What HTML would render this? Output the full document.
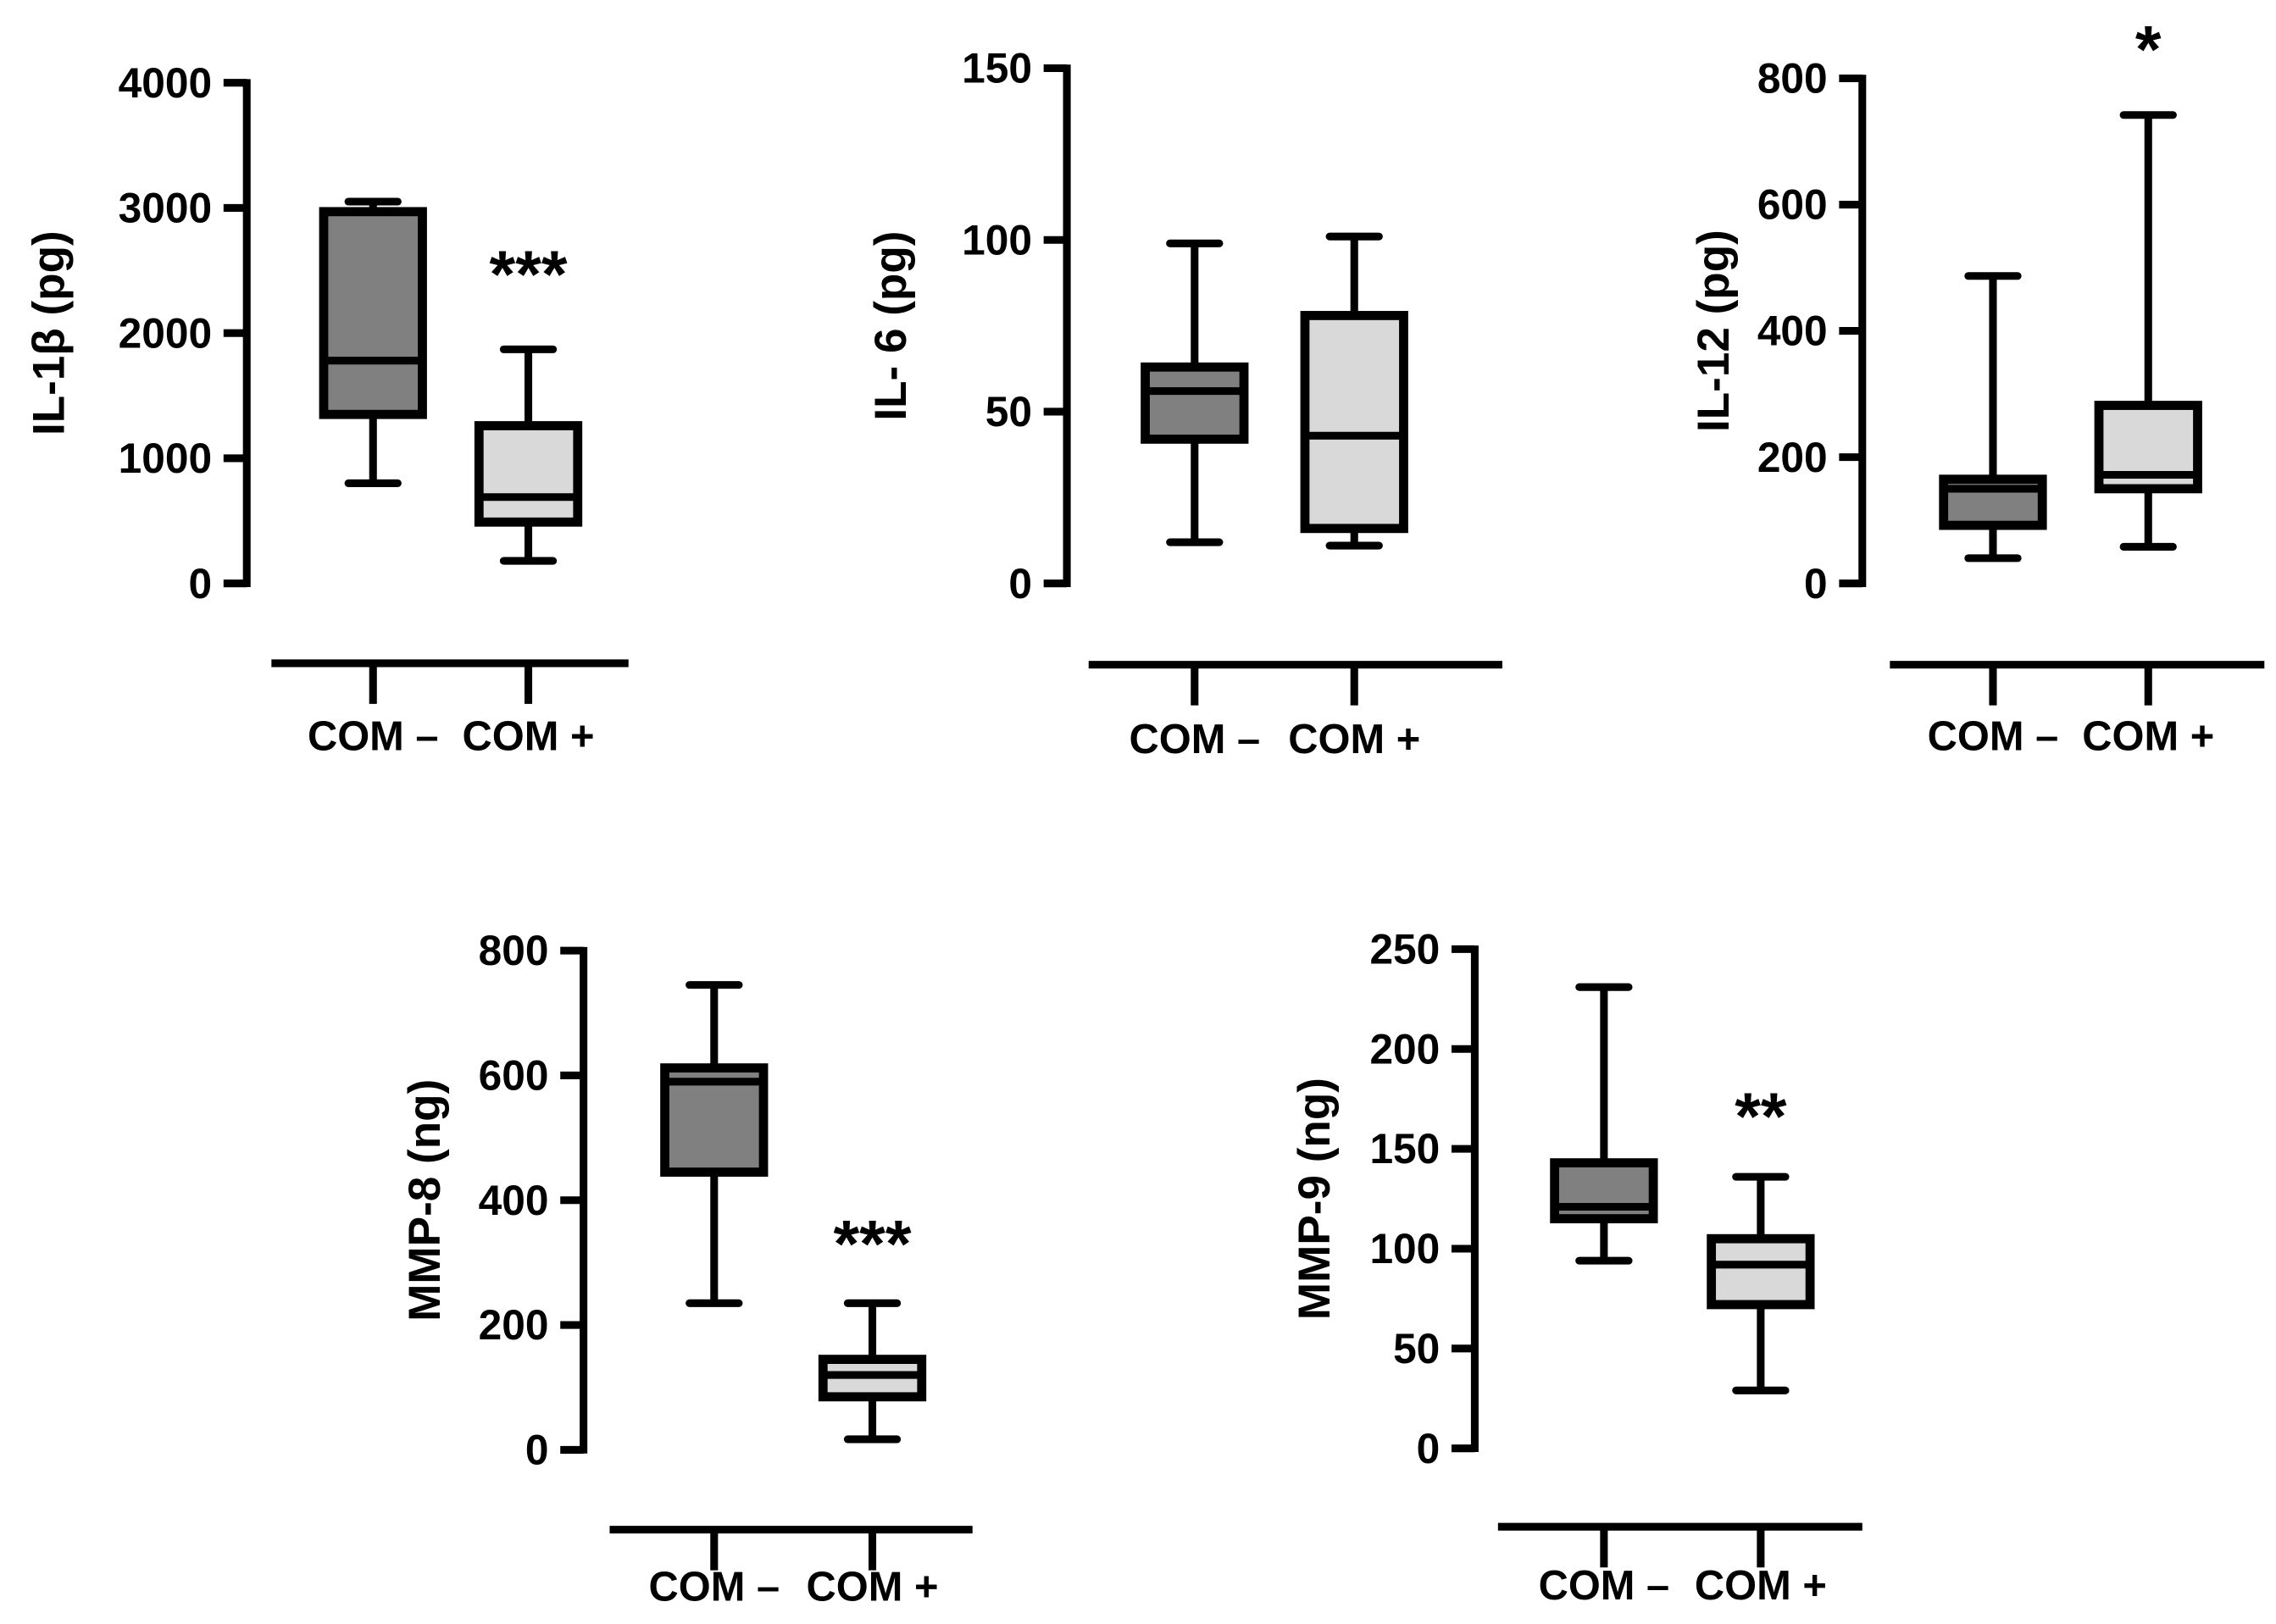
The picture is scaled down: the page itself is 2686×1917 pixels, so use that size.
<!DOCTYPE html>
<html><head><meta charset="utf-8"><style>
html,body{margin:0;padding:0;background:#fff;}
svg{display:block;}
text{font-family:"Liberation Sans",Arial,sans-serif;font-weight:bold;fill:#000;}
</style></head><body>
<svg id="fig" width="2686" height="1917" viewBox="0 0 1568 1119" preserveAspectRatio="none" xmlns="http://www.w3.org/2000/svg"></svg>
<script>
const groups = ["COM \u2013", "COM +"];
const il1bStats = [[800,1350,1780,2970,3050],[180,490,690,1260,1870]];
const il6Stats = [[12,42,56,63,99],[11,16,43,78,101]];
const il12Stats = [[40,92,150,165,487],[58,150,172,282,742]];
const mmp8Stats = [[235,445,590,612,745],[17,85,120,145,235]];
const mmp9Stats = [[94,115,121,143,231],[29,72,92,105,136]];
const il1bTicks = [0,1000,2000,3000,4000];
const il6Ticks = [0,50,100,150];
const il12Ticks = [0,200,400,600,800];
const mmp8Ticks = [0,200,400,600,800];
const mmp9Ticks = [0,50,100,150,200,250];
const sigMarks = ["***","","*","***","**"];

const panels = [
 {name:"il1b", title:"IL-1\u03b2 (pg)", stats:il1bStats, ticks:il1bTicks, ax:170, yTop:57, y0:402, cx:[257,364], xl:[187,433], xy:457, ly:507, tx:33, sig:sigMarks[0], sigY:185},
 {name:"il6", title:"IL- 6 (pg)", stats:il6Stats, ticks:il6Ticks, ax:735, yTop:47, y0:402, cx:[823,933], xl:[750,1035], xy:458, ly:509, tx:613, sig:sigMarks[1], sigY:0},
 {name:"il12", title:"IL-12 (pg)", stats:il12Stats, ticks:il12Ticks, ax:1283, yTop:54, y0:402, cx:[1373,1480], xl:[1302,1560], xy:458, ly:507, tx:1180, sig:sigMarks[2], sigY:30},
 {name:"mmp8", title:"MMP-8 (ng)", stats:mmp8Stats, ticks:mmp8Ticks, ax:402, yTop:655, y0:999, cx:[492,601], xl:[420,670], xy:1054, ly:1093, tx:292, sig:sigMarks[3], sigY:853},
 {name:"mmp9", title:"MMP-9 (ng)", stats:mmp9Stats, ticks:mmp9Ticks, ax:1016, yTop:654, y0:998, cx:[1105,1213], xl:[1032,1283], xy:1052, ly:1092, tx:905, sig:sigMarks[4], sigY:765}
];
const svg = document.getElementById('fig');
const NS = "http://www.w3.org/2000/svg";
function mk(tag, attrs, parent){const e=document.createElementNS(NS,tag);for(const k in attrs)e.setAttribute(k,attrs[k]);parent.appendChild(e);return e;}
const SW=5.3, BW=68, CAP=34;
panels.forEach(p=>{
  const g=mk('g',{},svg);
  
  
  const max=p.ticks[p.ticks.length-1];
  const y=v=>p.y0-(v/max)*(p.y0-p.yTop);
  const ax=mk('line',{x1:p.ax,y1:p.yTop-2.5,x2:p.ax,y2:p.y0+2.5,stroke:'#000','stroke-width':SW},g);
  
  
  p.ticks.forEach(t=>{
    mk('line',{x1:p.ax-16,y1:y(t),x2:p.ax,y2:y(t),stroke:'#000','stroke-width':SW},g);
    const tl=mk('text',{x:p.ax-24,y:y(t)+10,'text-anchor':'end','font-size':29},g);
    tl.textContent=t;
    
    
  });
  const yt=mk('text',{x:0,y:0,'text-anchor':'middle','font-size':31,transform:`translate(${p.tx+11},${(p.yTop+p.y0)/2}) rotate(-90)`},g);
  yt.textContent=p.title;
  
  
  const xa=mk('line',{x1:p.xl[0],y1:p.xy,x2:p.xl[1],y2:p.xy,stroke:'#000','stroke-width':SW},g);
  
  
  p.stats.forEach((s,i)=>{
    const cx=p.cx[i];
    mk('line',{x1:cx,y1:p.xy,x2:cx,y2:p.xy+28,stroke:'#000','stroke-width':SW},g);
    const xl=mk('text',{x:cx,y:p.ly+10,'text-anchor':'middle','font-size':28.5},g);
    xl.textContent=groups[i];
    
    
    const bg=mk('g',{},g);
    
    
    mk('line',{x1:cx,y1:y(s[0]),x2:cx,y2:y(s[4]),stroke:'#000','stroke-width':SW},bg);
    mk('line',{x1:cx-CAP/2,y1:y(s[0]),x2:cx+CAP/2,y2:y(s[0]),stroke:'#000','stroke-width':SW,'stroke-linecap':'round'},bg);
    mk('line',{x1:cx-CAP/2,y1:y(s[4]),x2:cx+CAP/2,y2:y(s[4]),stroke:'#000','stroke-width':SW,'stroke-linecap':'round'},bg);
    mk('rect',{x:cx-BW/2,y:y(s[3]),width:BW,height:y(s[1])-y(s[3]),fill:i===0?'#808080':'#d9d9d9',stroke:'#000','stroke-width':SW+1},bg);
    mk('line',{x1:cx-BW/2,y1:y(s[2]),x2:cx+BW/2,y2:y(s[2]),stroke:'#000','stroke-width':SW},bg);
  });
  if(p.sig){
    const st=mk('text',{x:p.cx[1],y:p.sigY+20,'text-anchor':'middle','font-size':46},g);
    st.textContent=p.sig;
    
    
  }
});
</script>
</body></html>
